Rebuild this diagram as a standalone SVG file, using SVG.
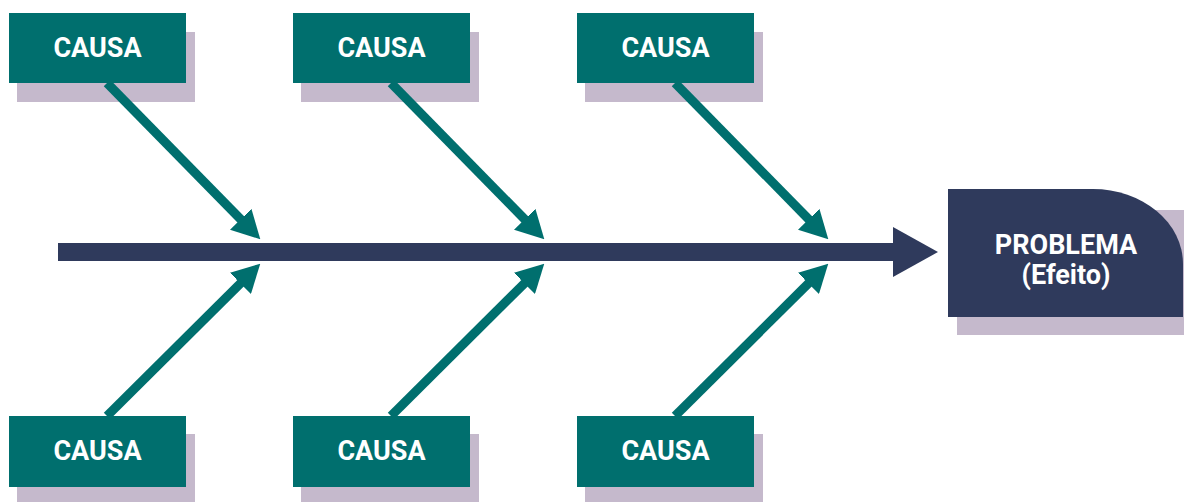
<svg xmlns="http://www.w3.org/2000/svg" width="1184" height="502" viewBox="0 0 1184 502">
<style>
.box{fill:#006F6E}
.shadow{fill:#C5B9CC}
.t{font-family:Roboto,"Liberation Sans",sans-serif;font-weight:bold;fill:#FFFFFF;text-anchor:middle}
.c{font-size:27px}
.p{font-size:27px}
.bone{stroke:#006F6E;stroke-width:9;fill:none}
</style>
<defs>
<marker id="ah" viewBox="0 0 28 30" refX="1" refY="15" markerWidth="28" markerHeight="30" markerUnits="userSpaceOnUse" orient="auto">
<path d="M0,0 L28,15 L0,30 z" fill="#006F6E"/>
</marker>
</defs>
<rect width="1184" height="502" fill="#FFFFFF"/>
<g id="shadows">
<rect class="shadow" x="17" y="32" width="178" height="70"/>
<rect class="shadow" x="301" y="32" width="178" height="70"/>
<rect class="shadow" x="585" y="32" width="178" height="70"/>
<rect class="shadow" x="17" y="434" width="178" height="70"/>
<rect class="shadow" x="301" y="434" width="178" height="70"/>
<rect class="shadow" x="585" y="434" width="178" height="70"/>
<rect class="shadow" x="957" y="210" width="227" height="125"/>
</g>
<g id="connectors">
<line x1="58" y1="252" x2="895" y2="252" stroke="#2F3A5C" stroke-width="18"/>
<polygon points="893,227 938,252 893,277" fill="#2F3A5C"/>
<line class="bone" x1="107" y1="83" x2="241.4" y2="220" marker-end="url(#ah)"/>
<line class="bone" x1="391" y1="83" x2="525.4" y2="220" marker-end="url(#ah)"/>
<line class="bone" x1="675" y1="83" x2="809.4" y2="220" marker-end="url(#ah)"/>
<line class="bone" x1="107" y1="416" x2="241.1" y2="282.7" marker-end="url(#ah)"/>
<line class="bone" x1="391" y1="416" x2="525.1" y2="282.7" marker-end="url(#ah)"/>
<line class="bone" x1="675" y1="416" x2="809.1" y2="282.7" marker-end="url(#ah)"/>
</g>
<g id="cause-top-1"><rect class="box" x="9" y="13" width="177" height="70"/><text class="t c" x="97.5" y="57">CAUSA</text></g>
<g id="cause-top-2"><rect class="box" x="293" y="13" width="177" height="70"/><text class="t c" x="381.5" y="57">CAUSA</text></g>
<g id="cause-top-3"><rect class="box" x="577" y="13" width="177" height="70"/><text class="t c" x="665.5" y="57">CAUSA</text></g>
<g id="cause-bottom-1"><rect class="box" x="9" y="416" width="177" height="71"/><text class="t c" x="97.5" y="460">CAUSA</text></g>
<g id="cause-bottom-2"><rect class="box" x="293" y="416" width="177" height="71"/><text class="t c" x="381.5" y="460">CAUSA</text></g>
<g id="cause-bottom-3"><rect class="box" x="577" y="416" width="177" height="71"/><text class="t c" x="665.5" y="460">CAUSA</text></g>
<g id="problem">
<path d="M948,189 L1093,189 A90,75 0 0 1 1183,264 L1183,317 L948,317 Z" fill="#2F3A5C"/>
<text class="t p" x="1066" y="254">PROBLEMA</text>
<text class="t p" x="1066" y="284">(Efeito)</text>
</g>
</svg>
